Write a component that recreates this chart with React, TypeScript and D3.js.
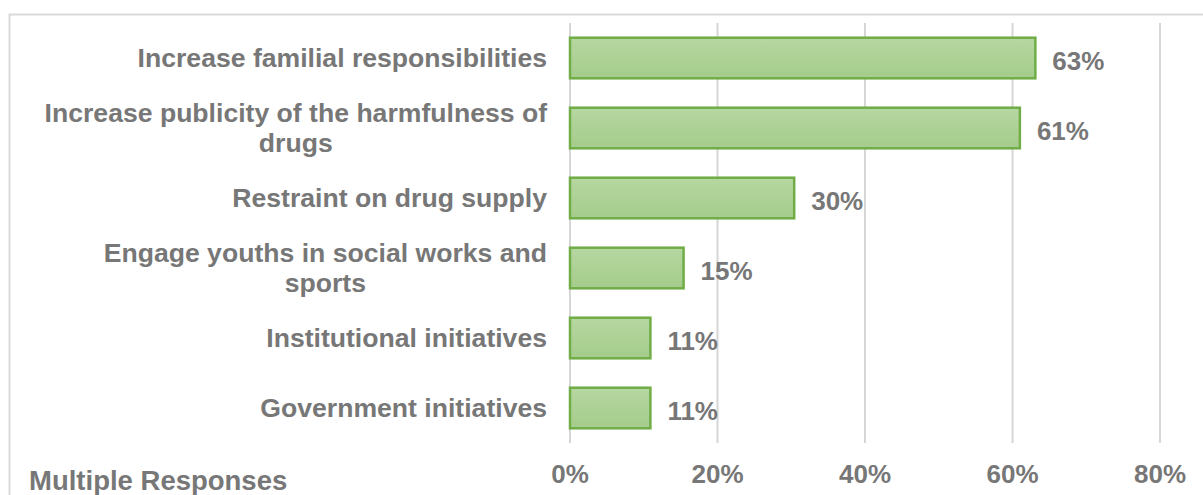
import React from "react";
import * as d3 from "d3";

const categories: string[][] = [
  ["Increase familial responsibilities"],
  ["Increase publicity of the harmfulness of", "drugs"],
  ["Restraint on drug supply"],
  ["Engage youths in social works and", "sports"],
  ["Institutional initiatives"],
  ["Government initiatives"],
];
const values: number[] = [0.631, 0.61, 0.304, 0.154, 0.109, 0.109];
const ticks: number[] = [0, 0.2, 0.4, 0.6, 0.8];
const footnote = "Multiple Responses";

const W = 1203;
const H = 495;
const TEXT = "#777777";
const FONT = "'Liberation Sans', Arial, sans-serif";
const CAT_SIZE = 26.6;

function measure(text: string, size: number): number {
  const c = document.createElement("canvas").getContext("2d");
  if (!c) return text.length * size * 0.55;
  c.font = `bold ${size}px 'Liberation Sans'`;
  return c.measureText(text).width;
}

export default function App() {
  const keys = categories.map((c) => c.join(" "));
  const x = d3.scaleLinear().domain([0, 0.8]).range([570, 1160]);
  const y = d3
    .scaleBand<string>()
    .domain(keys)
    .range([23, 443])
    .paddingInner(0.42)
    .paddingOuter(0.21);
  const fmt = d3.format(".0%");
  const labelRight = 547;

  return (
    <svg
      width={W}
      height={H}
      style={{ position: "absolute", left: 0, top: 0, display: "block", background: "#fff" }}
      fontFamily={FONT}
    >
      <defs>
        <linearGradient id="barFill" x1="0" y1="0" x2="0" y2="1">
          <stop offset="0" stopColor="#b6d7a1" />
          <stop offset="1" stopColor="#a5cc8b" />
        </linearGradient>
      </defs>
      <rect x={9.5} y={14.5} width={1205} height={495} fill="#fff" stroke="#d9d9d9" strokeWidth={2} />
      {ticks.map((t) => (
        <g key={t}>
          <line x1={x(t)} x2={x(t)} y1={23} y2={443} stroke="#d6d6d6" strokeWidth={2} />
          <text x={x(t)} y={483} textAnchor="middle" fontSize={26} fontWeight="bold" fill={TEXT}>
            {fmt(t)}
          </text>
        </g>
      ))}
      {keys.map((k, i) => {
        const by = y(k)!;
        const bw = y.bandwidth();
        const cy = by + bw / 2;
        const lines = categories[i];
        const maxW = Math.max(...lines.map((l) => measure(l, CAT_SIZE)));
        const centerX = labelRight - maxW / 2;
        return (
          <g key={k}>
            <rect
              x={x(0)}
              y={by}
              width={x(values[i]) - x(0)}
              height={bw}
              fill="url(#barFill)"
              stroke="#70ad47"
              strokeWidth={2.5}
            />
            <text x={x(values[i]) + 17} y={cy + 12} fontSize={26} fontWeight="bold" fill={TEXT}>
              {fmt(values[i])}
            </text>
            {lines.length === 1 ? (
              <text x={labelRight} y={cy + 9} textAnchor="end" fontSize={CAT_SIZE} fontWeight="bold" fill={TEXT}>
                {lines[0]}
              </text>
            ) : (
              lines.map((ln, j) => (
                <text
                  key={j}
                  x={centerX}
                  y={cy - 6 + j * 30}
                  textAnchor="middle"
                  fontSize={CAT_SIZE}
                  fontWeight="bold"
                  fill={TEXT}
                >
                  {ln}
                </text>
              ))
            )}
          </g>
        );
      })}
      <text x={29} y={490} fontSize={27.5} fontWeight="bold" fill={TEXT}>
        {footnote}
      </text>
    </svg>
  );
}
